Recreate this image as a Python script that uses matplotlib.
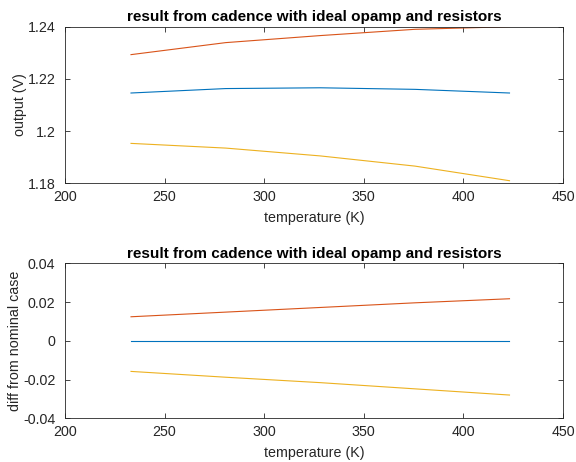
import matplotlib
matplotlib.use('Agg')
import matplotlib.pyplot as plt

# temperature sweep, -40 .. 150 C in kelvin
temp_k = [233.15, 280.65, 328.15, 375.65, 423.15]

# output voltage for the three corners
v_nominal = [1.2146, 1.2163, 1.2166, 1.2160, 1.2146]
v_high = [1.2293, 1.2339, 1.2366, 1.2390, 1.2400]
v_low = [1.1953, 1.1935, 1.1905, 1.1866, 1.1810]

# difference from the nominal case
d_nominal = [0, 0, 0, 0, 0]
d_high = [0.0124, 0.0148, 0.0172, 0.0196, 0.0217]
d_low = [-0.0158, -0.0188, -0.0216, -0.0248, -0.0280]

x_ticks = [200, 250, 300, 350, 400, 450]
top_ticks = [1.18, 1.2, 1.22, 1.24]
top_labels = ['1.18', '1.2', '1.22', '1.24']
bot_ticks = [-0.04, -0.02, 0, 0.02, 0.04]
bot_labels = ['-0.04', '-0.02', '0', '0.02', '0.04']

title = 'result from cadence with ideal opamp and resistors'
colors = ['#0072BD', '#D95319', '#EDB120']
dark = '#262626'

plt.rcParams['font.family'] = ['Liberation Sans', 'DejaVu Sans']
plt.rcParams['font.size'] = 10

fig = plt.figure(figsize=(5.76, 4.62), dpi=100)
ax1 = fig.add_axes([0.1128, 0.6032, 0.8646, 0.339])
ax2 = fig.add_axes([0.1128, 0.0946, 0.8646, 0.3355])


def style(ax, yt, yl, ylabel):
    ax.set_xlim(200, 450)
    ax.set_xticks(x_ticks)
    ax.set_yticks(yt)
    ax.set_yticklabels(yl)
    ax.set_ylim(yt[0], yt[-1])
    ax.tick_params(direction='in', top=True, right=True, colors=dark,
                   labelsize=10.3, length=3.5, width=0.6)
    ax.tick_params(axis='x', pad=5)
    ax.tick_params(axis='y', pad=7)
    for s in ax.spines.values():
        s.set_color(dark)
        s.set_linewidth(0.6)
    ax.set_xlabel('temperature (K)', color=dark, fontsize=10.3, labelpad=5)
    ax.set_ylabel(ylabel, color=dark, fontsize=10.3, labelpad=0.5)
    ax.set_title(title, fontweight='bold', fontsize=11, pad=4)


for ys, c in zip([v_nominal, v_high, v_low], colors):
    ax1.plot(temp_k, ys, color=c, lw=0.8)
for ys, c in zip([d_nominal, d_high, d_low], colors):
    ax2.plot(temp_k, ys, color=c, lw=0.8)

style(ax1, top_ticks, top_labels, 'output (V)')
style(ax2, bot_ticks, bot_labels, 'diff from nominal case')

fig.savefig('out.png', dpi=100)
